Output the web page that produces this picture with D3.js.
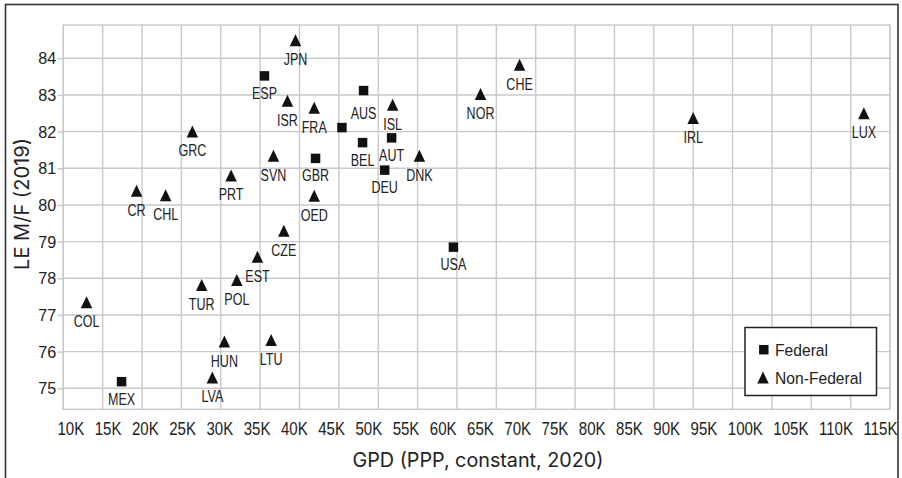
<!DOCTYPE html>
<html>
<head>
<meta charset="utf-8">
<title>Life expectancy vs GDP</title>
<script src="https://d3js.org/d3.v7.min.js"></script>
<style>
  body { margin: 0; background: #fff; }
  svg text { fill: #222; }
  .narrow { font-family: "Liberation Sans", Arial, sans-serif; }
  .title { font-family: "Inter", "Open Sans", sans-serif; }
</style>
</head>
<body>
<script>
var width = 902;
var height = 478;

// federal countries (drawn as squares); GDP in thousands
var fedNames = ["ESP", "AUS", "", "BEL", "AUT", "DEU", "GBR", "USA", "MEX"];
var fedGdp   = [35.55, 48.14, 45.39, 48.01, 51.70, 50.82, 42.04, 59.55, 17.40];
var fedLe    = [83.52, 83.12, 82.11, 81.70, 81.83, 80.95, 81.27, 78.85, 75.18];

// non-federal countries (drawn as triangles)
var nonNames = ["JPN", "ISR", "FRA", "ISL", "DNK", "SVN", "OED", "CZE", "CR", "CHL", "GRC", "PRT",
                "COL", "TUR", "POL", "EST", "HUN", "LTU", "LVA", "NOR", "CHE", "IRL", "LUX"];
var nonGdp   = [39.49, 38.47, 41.87, 51.83, 55.23, 36.69, 41.87, 38.01, 19.31, 23.00, 26.39, 31.31,
                12.95, 27.58, 32.04, 34.66, 30.46, 36.40, 28.93, 62.99, 67.95, 90.00, 111.68];
var nonLe    = [84.44, 82.79, 82.60, 82.68, 81.29, 81.29, 80.20, 79.24, 80.33, 80.21, 81.95, 80.75,
                77.29, 77.76, 77.90, 78.53, 76.22, 76.26, 75.24, 82.97, 83.77, 82.32, 82.45];

var xTickValues = [10, 15, 20, 25, 30, 35, 40, 45, 50, 55, 60, 65, 70, 75, 80, 85, 90, 95, 100, 105, 110, 115];
var yTickValues = [75, 76, 77, 78, 79, 80, 81, 82, 83, 84];

var svg = d3.select("body").append("svg")
    .attr("width", width)
    .attr("height", height);

var x = d3.scaleLinear().domain([10, 115]).range([63.3, 890]);
var y = d3.scaleLinear().domain([74.427, 84.908]).range([409.3, 25]);

var gridColor = "#c9c9c9";

// the reference uses a condensed face; squeeze a regular one horizontally
function squeeze(sel, sx) {
  sel.each(function() {
    var t = d3.select(this);
    var tx = +t.attr("x") || 0, ty = +t.attr("y") || 0;
    t.attr("x", null).attr("y", null)
     .attr("transform", "translate(" + tx + "," + ty + ") scale(" + sx + ",1)");
  });
}

// fit a text to a given width by changing its font size
function fitWidth(sel, w) {
  var cur = sel.node().getComputedTextLength();
  var fs = +sel.attr("font-size");
  sel.attr("font-size", fs * w / cur);
}

// outer frame (bottom runs off the picture)
svg.append("rect")
    .attr("x", 5.5).attr("y", 4.5)
    .attr("width", 892.5).attr("height", 520)
    .attr("fill", "none")
    .attr("stroke", "#333")
    .attr("stroke-width", 1.6);

// grid
var grid = svg.append("g");
grid.selectAll("line.v")
  .data(xTickValues)
  .enter().append("line")
    .attr("x1", function(d) { return x(d); })
    .attr("x2", function(d) { return x(d); })
    .attr("y1", y.range()[1])
    .attr("y2", y.range()[0])
    .attr("stroke", gridColor)
    .attr("stroke-width", 1.4);

grid.selectAll("line.h")
  .data(yTickValues)
  .enter().append("line")
    .attr("x1", x.range()[0])
    .attr("x2", x.range()[1])
    .attr("y1", function(d) { return y(d); })
    .attr("y2", function(d) { return y(d); })
    .attr("stroke", gridColor)
    .attr("stroke-width", 1.4);

grid.append("rect")
    .attr("x", x.range()[0]).attr("y", y.range()[1])
    .attr("width", x.range()[1] - x.range()[0])
    .attr("height", y.range()[0] - y.range()[1])
    .attr("fill", "none")
    .attr("stroke", gridColor)
    .attr("stroke-width", 1.4);

// y axis
var yAxis = svg.append("g")
    .attr("class", "narrow")
    .attr("transform", "translate(" + x.range()[0] + ",0)")
    .call(d3.axisLeft(y).tickValues(yTickValues).tickSize(6).tickPadding(1).tickFormat(d3.format("d")));
yAxis.select(".domain").remove();
yAxis.selectAll(".tick line").attr("stroke", gridColor).attr("stroke-width", 1.4);
var yl = yAxis.selectAll(".tick text").attr("font-size", 17).attr("fill", "#222");
squeeze(yl, 0.95);

// x axis: labels spread edge to edge between 57 and 897
var xsx = 0.86;
var xAxis = svg.append("g")
    .attr("class", "narrow")
    .attr("transform", "translate(0," + y.range()[0] + ")")
    .call(d3.axisBottom(x).tickValues(xTickValues).tickSize(0).tickPadding(0)
          .tickFormat(function(d) { return d + "K"; }));
xAxis.select(".domain").remove();
var xl = xAxis.selectAll(".tick text")
    .attr("font-size", 17.5)
    .attr("fill", "#222")
    .attr("dy", null)
    .attr("y", 26);
var widths = xl.nodes().map(function(n) { return n.getComputedTextLength() * xsx; });
var gap = (897 - 57 - d3.sum(widths)) / (widths.length - 1);
var cursor = 57;
xl.each(function(d, i) {
  d3.select(this).attr("x", cursor + widths[i] / 2 - x(d));
  cursor += widths[i] + gap;
});
squeeze(xl, xsx);

// axis titles
var xt = svg.append("text")
    .attr("class", "title")
    .attr("x", 478).attr("y", 466.5)
    .attr("text-anchor", "middle")
    .attr("font-size", 18)
    .text("GPD (PPP, constant, 2020)");
fitWidth(xt, 251);

var yt = svg.append("text")
    .attr("class", "title")
    .attr("transform", "translate(28.5,204) rotate(-90)")
    .attr("text-anchor", "middle")
    .attr("font-size", 18)
    .text("LE M/F (2019)");
fitWidth(yt, 132);

// markers
var triW = 11.5, triH = 12;
var triangle = {
  draw: function(ctx) {
    ctx.moveTo(0, -triH * 2 / 3);
    ctx.lineTo(triW / 2, triH / 3);
    ctx.lineTo(-triW / 2, triH / 3);
    ctx.closePath();
  }
};
var square = d3.symbol().type(d3.symbolSquare).size(90);
var tri = d3.symbol().type(triangle);

var fed = fedNames.map(function(n, i) { return { name: n, gdp: fedGdp[i], le: fedLe[i] }; });
var non = nonNames.map(function(n, i) { return { name: n, gdp: nonGdp[i], le: nonLe[i] }; });

var labelShift = { AUS: 5 };

var pts = svg.append("g");
pts.selectAll("path.fed")
  .data(fed)
  .enter().append("path")
    .attr("transform", function(d) { return "translate(" + x(d.gdp) + "," + y(d.le) + ")"; })
    .attr("d", square)
    .attr("fill", "#111");

pts.selectAll("path.non")
  .data(non)
  .enter().append("path")
    .attr("transform", function(d) { return "translate(" + x(d.gdp) + "," + y(d.le) + ")"; })
    .attr("d", tri)
    .attr("fill", "#111");

var pl = pts.selectAll("text")
  .data(fed.concat(non))
  .enter().append("text")
    .attr("class", "narrow")
    .attr("x", function(d) { return x(d.gdp); })
    .attr("y", function(d) { return y(d.le) + 23 + (labelShift[d.name] || 0); })
    .attr("text-anchor", "middle")
    .attr("font-size", 16.5)
    .text(function(d) { return d.name; });
squeeze(pl, 0.76);

// legend
var legend = svg.append("g").attr("class", "narrow");
legend.append("rect")
    .attr("x", 745).attr("y", 327.5)
    .attr("width", 131.5).attr("height", 68)
    .attr("fill", "#fff")
    .attr("stroke", "#222")
    .attr("stroke-width", 1.5);
legend.append("path")
    .attr("transform", "translate(763.8,349.7)")
    .attr("d", square)
    .attr("fill", "#111");
legend.append("path")
    .attr("transform", "translate(763,379.4)")
    .attr("d", tri)
    .attr("fill", "#111");
var lt = legend.selectAll("text.lg")
  .data(["Federal", "Non-Federal"])
  .enter().append("text")
    .attr("x", 775)
    .attr("y", function(d, i) { return i ? 383.5 : 356; })
    .attr("font-size", 17)
    .text(function(d) { return d; });
squeeze(lt, 0.92);
</script>
</body>
</html>
